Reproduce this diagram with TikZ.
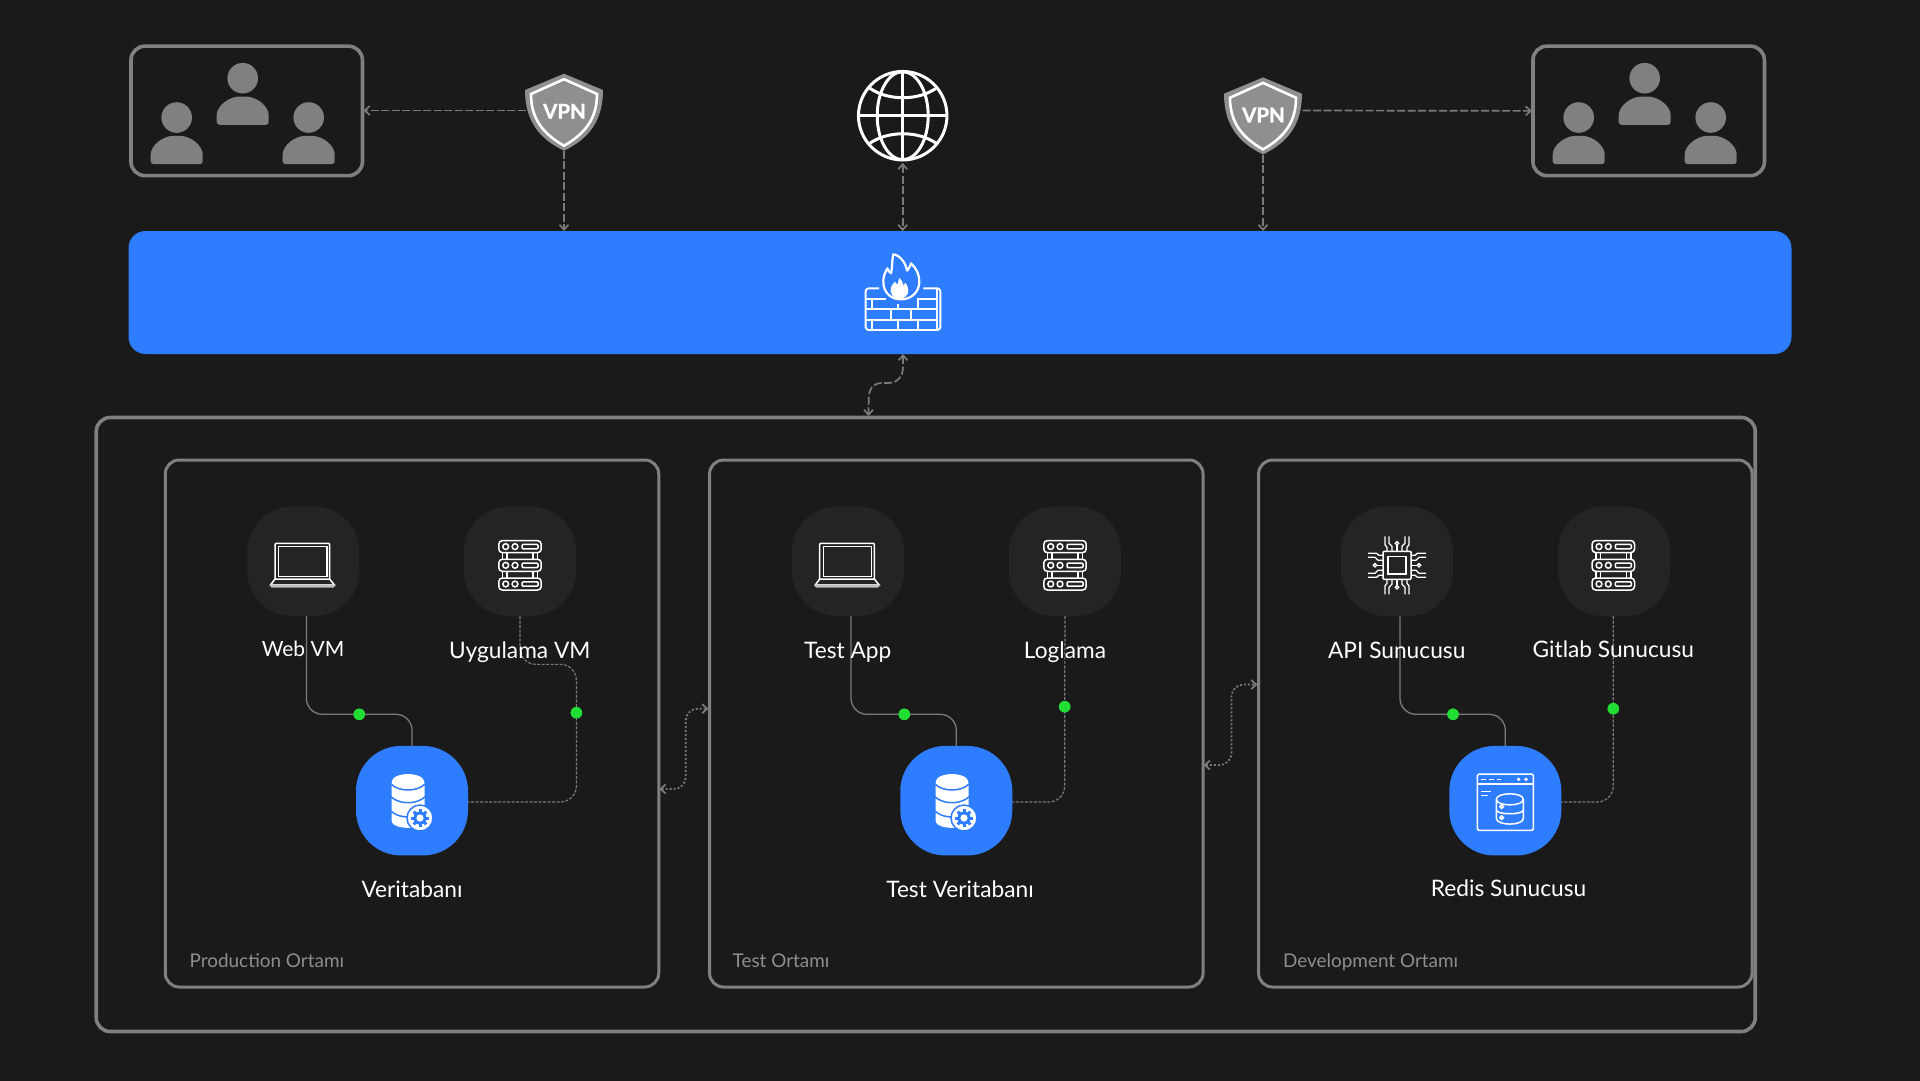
\documentclass[tikz,border=0pt]{standalone}
\usepackage{fontspec}
\setmainfont{Lato}
\newfontfamily\vpnfont[BoldFeatures={FakeBold=1.2}]{Lato}
\usetikzlibrary{arrows.meta,calc}
\definecolor{bgc}{HTML}{1A1A1A}
\definecolor{bluec}{HTML}{2F7DFF}
\definecolor{squirc}{HTML}{242422}
\definecolor{framec}{HTML}{808080}
\definecolor{wirec}{HTML}{7A7A7A}
\definecolor{shieldc}{HTML}{8F8F8F}
\definecolor{greenc}{HTML}{22DD33}
\definecolor{grpc}{HTML}{8E8E8E}
\tikzset{
  panel/.style={draw=framec,line width=3.6pt,rounded corners=14pt,inner sep=0pt,outer sep=0pt},
  squir/.style={fill=squirc,rounded corners=45pt,minimum width=112pt,minimum height=109.5pt,inner sep=0pt,outer sep=0pt},
  squirb/.style={squir,fill=bluec},
  lbl/.style={text=white,anchor=base,font=\fontsize{22.7}{28}\selectfont,inner sep=0pt},
  grp/.style={text=grpc,anchor=base west,font=\fontsize{18.9}{23}\selectfont,inner sep=0pt},
  dot/.style={circle,fill=greenc,minimum size=11.5pt,inner sep=0pt,outer sep=0pt},
  tip/.style={{Straight Barb[length=5pt,width=9pt]}-{Straight Barb[length=5pt,width=9pt]}},
  tipend/.style={-{Straight Barb[length=5pt,width=9pt]}},
  bigdash/.style={draw=wirec,line width=1.7pt,dash pattern=on 8pt off 2.5pt},
  dotline/.style={draw=wirec,line width=1.8pt,dash pattern=on 2pt off 2pt,rounded corners=12pt},
  solidwire/.style={draw=wirec,line width=1.3pt,rounded corners=16pt},
  dashwire/.style={draw=wirec,line width=1.2pt,dash pattern=on 3pt off 1.5pt,rounded corners=16pt},
  vpnbadge/.style={minimum width=78pt,minimum height=79pt,inner sep=0pt,outer sep=0pt,text=white,font=\vpnfont\fontsize{20.5}{24}\bfseries\selectfont},
  ic/.style={draw=white,line width=1.5pt},
  personic/.pic={
    \fill[framec] (0,0) ellipse[x radius=15.3pt,y radius=15.3pt];
    \fill[framec,rounded corners=3pt] (-26,46.7) -- (-26,40) .. controls (-26,28) and (-14,18.3) .. (0,18.3) .. controls (14,18.3) and (26,28) .. (26,40) -- (26,46.7) -- cycle;
  },
  shieldic/.pic={
    \fill[shieldc] (0,-37) -- (39,-20.7) .. controls (39,10) and (25,28) .. (0,40) .. controls (-25,28) and (-39,10) .. (-39,-20.7) -- cycle;
    \draw[white,line width=2.6pt] (0,-31.5) -- (33,-16.7) .. controls (33,8) and (21,23) .. (0,35) .. controls (-21,23) and (-33,8) .. (-33,-16.7) -- cycle;
  },
  laptopic/.pic={
    \draw[ic,rounded corners=1pt] (-28.3,17.7) -- (-28.3,-18) -- (26.3,-18) -- (26.3,17.7);
    \draw[ic] (-24.7,-15) rectangle (23.5,15.4);
    \draw[ic] (-28.3,17.7) -- (26.3,17.7) -- (31,23.5) -- (-32.6,23.5) -- cycle;
    \fill[white!75!black,rounded corners=1pt] (-32.8,23) rectangle (31.2,26.2);
  },
  serveric/.pic={
    \foreach \ry in {-14.7,4,22.7}{
      \draw[ic,rounded corners=3.5pt] (-21.2,\ry-6) rectangle (21.2,\ry+6);
      \draw[ic] (-14.3,\ry) circle[radius=2.9pt];
      \draw[ic] (-5,\ry) circle[radius=2.9pt];
      \draw[ic,rounded corners=1pt] (2,\ry-2.2) rectangle (18,\ry+2.2);
    }
    \foreach \ry in {-8.7,10}{
      \foreach \rx in {-17.5,-13,13,17.5}{ \draw[ic] (\rx,\ry) -- (\rx,\ry+6.7); }
    }
  },
  dbic/.pic={
    \fill[white] (-16.5,-18) .. controls (-16.5,-29.5) and (16.5,-29.5) .. (16.5,-18) -- (16.5,20) .. controls (16.5,29.5) and (-16.5,29.5) .. (-16.5,20) -- cycle;
    \foreach \ry in {-16.7,-4,10.3}{
      \draw[bluec,line width=1.5pt] (-17,\ry) .. controls (-9,\ry+8) and (9,\ry+8) .. (17,\ry);
    }
    \fill[white,draw=bluec,line width=1.5pt] (12,17.3) circle[radius=13pt];
    \fill[bluec] (12,17.3) circle[radius=6.6pt];
    \foreach \ga in {0,45,...,315}{
      \fill[bluec,shift={(12,17.3)},rotate=\ga] (-1.5,-9) rectangle (1.5,-5);
    }
    \fill[white] (12,17.3) circle[radius=3.6pt];
  },
  chipic/.pic={
    \draw[ic,rounded corners=1pt] (-14,-14) rectangle (14,14);
    \draw[ic] (-8.8,-8.8) rectangle (8.8,8.8);
    \foreach \ang in {0,90,180,270}{
      \begin{scope}[rotate=\ang]
        \draw[ic,line width=1.3pt] (0,-14) -- (0,-20);
        \draw[ic,line width=1.3pt] (0,-22) circle[radius=1.7pt];
        \draw[ic,line width=1.3pt] (-5,-14) -- (-5,-19) -- (-8,-22) -- (-8,-29);
        \draw[ic,line width=1.3pt] (-10,-14) -- (-10,-18) -- (-12,-20.5) -- (-12,-29);
        \draw[ic,line width=1.3pt] (5,-14) -- (5,-19) -- (8,-22) -- (8,-29);
        \draw[ic,line width=1.3pt] (10,-14) -- (10,-18) -- (12,-20.5) -- (12,-29);
      \end{scope}
    }
  },
}
\begin{document}
\begin{tikzpicture}[x=1pt,y=-1pt]
\useasboundingbox (0,0) rectangle (1920,1080);
\fill[bgc] (-3,-3) rectangle (1923,1083);

% --- frames
\node[panel,minimum width=231.5pt,minimum height=129.5pt] (usersl) at (246.7,110.9) {};
\node[panel,minimum width=231.5pt,minimum height=129.5pt] (usersr) at (1648.7,110.9) {};
\node[fill=bluec,rounded corners=17pt,minimum width=1663pt,minimum height=123pt,inner sep=0pt,outer sep=0pt] (bar) at (960,292.5) {};
\node[panel,minimum width=1659pt,minimum height=614pt] (outer) at (925.75,724.5) {};
\node[panel,line width=3pt,minimum width=493.5pt,minimum height=527pt] (prod) at (412,723.5) {};
\node[panel,line width=3pt,minimum width=493.5pt,minimum height=527pt] (test) at (956.3,723.5) {};
\node[panel,line width=3pt,minimum width=493.5pt,minimum height=527pt] (dev) at (1505.3,723.5) {};

% --- people
\foreach \bx in {0,1402}{
  \pic at (176.7+\bx,117.5) {personic};
  \pic at (242.7+\bx,78.2) {personic};
  \pic at (308.7+\bx,117.5) {personic};
}

% --- VPN shields
\pic at (564,110.7) {shieldic};
\pic at (1263,114.4) {shieldic};
\node[vpnbadge] (vpnl) at (564.5,111.3) {VPN};
\node[vpnbadge] (vpnr) at (1263.5,115) {VPN};

% --- globe
\node[circle,draw=white,line width=3pt,minimum size=88.5pt,inner sep=0pt,outer sep=0pt] (globe) at (902.7,115.7) {};
\draw[white,line width=3pt] (globe.center) ellipse[x radius=25.5pt,y radius=44pt];
\draw[white,line width=3pt] (globe.north) -- (globe.south);
\draw[white,line width=3pt] (globe.west) -- (globe.east);
\draw[white,line width=3pt] (869.5,88) .. controls (888,101) and (918,101) .. (936.5,88);
\draw[white,line width=3pt] (869.5,143.5) .. controls (888,130.5) and (918,130.5) .. (936.5,143.5);

% --- firewall icon (zoom coordinates)
\begin{scope}[shift={(800,50)},x=0.33333pt,y=-0.33333pt]
  \draw[white,line width=2.2pt,line join=round] (303,748) .. controls (270,748) and (248,725) .. (250,690) .. controls (251,675) and (257,665) .. (262,655) .. controls (265,662) and (268,667) .. (273,670) .. controls (278,650) and (275,630) .. (280,613) .. controls (300,615) and (318,640) .. (321,662) .. controls (326,658) and (330,650) .. (333,640) .. controls (350,655) and (358,675) .. (358,695) .. controls (358,725) and (335,748) .. (303,748) -- cycle;
  \fill[white] (298,746) .. controls (280,746) and (272,733) .. (272,720) .. controls (272,708) and (280,700) .. (285,695) .. controls (288,700) and (290,702) .. (292,704) .. controls (294,697) and (296,690) .. (298,684) .. controls (306,690) and (309,698) .. (310,707) .. controls (313,704) and (315,702) .. (316,698) .. controls (322,706) and (325,713) .. (325,722) .. controls (325,735) and (314,746) .. (298,746) -- cycle;
  \begin{scope}[white,line width=1.9pt]
    \draw[rounded corners=3pt] (237,715) -- (197,715) -- (197,840) -- (421,840) -- (421,715) -- (370,715);
    \draw (410,715) -- (410,840);
    \draw (197,747) -- (257,747);
    \draw (352,747) -- (410,747);
    \draw (197,778) -- (410,778);
    \draw (197,810) -- (410,810);
    \draw (217,747) -- (217,778);
    \draw (355,747) -- (355,778);
    \draw (295,762) -- (295,778);
    \draw (272,778) -- (272,810);
    \draw (333,778) -- (333,810);
    \draw (217,810) -- (217,840);
    \draw (295,810) -- (295,840);
    \draw (355,810) -- (355,840);
  \end{scope}
\end{scope}

% --- top connectors
\draw[bigdash,tipend] ([yshift=0.8pt]vpnl.west) -- ([xshift=1pt,yshift=0.4pt]usersl.east);
\draw[bigdash,tipend] ([yshift=4.5pt]vpnr.east) -- ([xshift=-1pt,yshift=0pt]usersr.west);
\draw[bigdash,tipend] ([xshift=-0.5pt]vpnl.south) -- ([xshift=-0.5pt]vpnl.south |- bar.north);
\draw[bigdash,tipend] ([xshift=-0.5pt]vpnr.south) -- ([xshift=-0.5pt]vpnr.south |- bar.north);
\draw[bigdash,tip] ([yshift=-3pt]globe.south) -- (globe.south |- bar.north);
\draw[bigdash,tip] ([xshift=-57pt]bar.south) -- ++(0,13) .. controls +(0,10) and +(9,0) .. ++(-15,16) -- ++(-6,0) .. controls +(-9,0) and +(0,-10) .. ++(-13.3,16) -- ([xshift=-57.3pt,yshift=1.5pt]outer.north);

% --- squircles
\node[squir] (webvm) at (303.3,561.3) {};
\node[squir] (uyg) at (520,561.3) {};
\node[squirb] (veri) at (412,800.7) {};
\node[squir] (tapp) at (848,561.3) {};
\node[squir] (logl) at (1065,561.3) {};
\node[squirb] (tveri) at (956.3,800.7) {};
\node[squir] (api) at (1397,561.3) {};
\node[squir] (gitl) at (1614,561.3) {};
\node[squirb] (redis) at (1505.3,800.7) {};

% --- dots
\node[dot] (d1) at (359.3,714.3) {};
\node[dot] (d2) at (576.4,712.7) {};
\node[dot] (d3) at (904.3,714.3) {};
\node[dot] (d4) at (1064.7,706.7) {};
\node[dot] (d5) at (1453,714.3) {};
\node[dot] (d6) at (1613.3,708.7) {};

% --- wires
\draw[solidwire] ([xshift=3.1pt]webvm.south) |- (d1.center) -| (veri.north);
\draw[solidwire] ([xshift=3pt]tapp.south) |- (d3.center) -| (tveri.north);
\draw[solidwire] ([xshift=3pt]api.south) |- (d5.center) -| (redis.north);
\draw[dashwire] (uyg.south) -- ++(0,48.3) -| (d2.center) |- ([yshift=-1.3pt]veri.east);
\draw[dashwire] (logl.south) -- (d4.center) |- ([yshift=-1.3pt]tveri.east);
\draw[dashwire] ([xshift=-0.7pt]gitl.south) -- (d6.center) |- ([yshift=-1.3pt]redis.east);
\foreach \dn in {d1,d2,d3,d4,d5,d6}{ \fill[greenc] (\dn) circle[radius=5.7pt]; }

% --- between environments
\draw[dotline,tip] ([xshift=0.5pt,yshift=-65.5pt]prod.east) -- ++(26.5,0) |- ([xshift=-1pt,yshift=14.8pt]test.west);
\draw[dotline,tip] ([xshift=0.5pt,yshift=-41.5pt]test.east) -- ++(28,0) |- ([xshift=-1pt,yshift=39pt]dev.west);

% --- icons in squircles
\pic at (303.3,561.3) {laptopic};
\pic at (848,561.3) {laptopic};
\pic at (520,561.3) {serveric};
\pic at (1065,561.3) {serveric};
\pic at (1613.3,561.3) {serveric};
\pic at (408,800.7) {dbic};
\pic at (952,800.7) {dbic};
\pic at (1397,565.3) {chipic};
\begin{scope}[shift={(1300,490)},x=0.33333pt,y=-0.33333pt]
  \begin{scope}[white,line width=1.5pt]
    \draw[rounded corners=1.5pt] (532,852) rectangle (700,1021);
    \draw (532,882) -- (700,882);
    \draw[line width=1.6pt] (543,868) -- (557,868);
    \draw[line width=1.6pt] (568,868) -- (582,868);
    \draw[line width=1.6pt] (590,868) -- (604,868);
    \fill (656,868) circle[radius=1.9pt];
    \fill (678,868) circle[radius=1.9pt];
    \draw (543,905) -- (573,905);
    \draw (543,917) -- (563,917);
    \draw (589,928) .. controls (589,906) and (670,906) .. (670,928) -- (670,985) .. controls (670,1008) and (589,1008) .. (589,985) -- cycle;
    \draw (589,928) .. controls (589,950) and (670,950) .. (670,928);
    \draw (589,960) .. controls (589,975) and (670,975) .. (670,960);
    \draw (605,950) circle[radius=1.8pt];
    \draw (605,983) circle[radius=1.8pt];
  \end{scope}
\end{scope}

% --- labels
\node[lbl,font=\fontsize{21}{28}\selectfont] (t1) at (303,656.5) {Web VM};
\node[lbl] (t2) at (519.8,658.5) {Uygulama VM};
\node[lbl] (t3) at (412,897.3) {Veritabanı};
\node[lbl] (t4) at (847.7,658.5) {Test App};
\node[lbl] (t5) at (1065,658.5) {Loglama};
\node[lbl] (t6) at (960,897.3) {Test Veritabanı};
\node[lbl] (t7) at (1396.7,658.5) {API Sunucusu};
\node[lbl] (t8) at (1613.3,657) {Gitlab Sunucusu};
\node[lbl] (t9) at (1508.5,896.5) {Redis Sunucusu};
\node[grp] (g1) at (189.5,967.5) {Production Ortamı};
\node[grp] (g2) at (732.5,967.5) {Test Ortamı};
\node[grp] (g3) at (1283,967.5) {Development Ortamı};
\end{tikzpicture}
\end{document}
